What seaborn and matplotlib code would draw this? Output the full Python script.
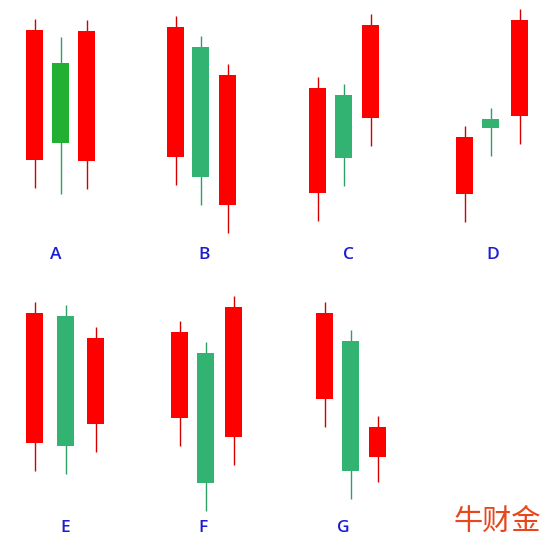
import numpy as np
import pandas as pd
import matplotlib
matplotlib.use("Agg")
import matplotlib.pyplot as plt
import seaborn as sns

# ---- data (unitless price scale) ----
groups = ["A", "B", "C", "D", "E", "F", "G"]
rows = [0, 0, 0, 0, 1, 1, 1]
# each group has three candles; direction: 1 = up (red), -1 = down (green)
direction = [
    [1, -1, 1], [1, -1, 1], [1, -1, 1], [1, -1, 1],
    [1, -1, 1], [1, -1, 1], [1, -1, 1],
]
body_top = [
    [210, 177, 209], [213, 193, 165], [152, 145, 215], [103, 121, 220],
    [207, 204, 182], [188, 167, 213], [207, 179, 93],
]
body_bottom = [
    [80, 97, 79], [83, 63, 35], [47, 82, 122], [46, 112, 124],
    [77, 74, 96], [102, 37, 83], [121, 49, 63],
]
high = [
    [221, 203, 220], [224, 204, 176], [163, 156, 226], [114, 132, 231],
    [218, 215, 193], [199, 178, 224], [218, 190, 104],
]
low = [
    [52, 46, 51], [55, 35, 7], [19, 54, 94], [18, 84, 96],
    [49, 46, 68], [74, 9, 55], [93, 21, 38],
]
watermark = "牛财金"

# ---- layout / style ----
W, H, DPI = 558, 560, 100
group_x = {  # candle centre positions in px (layout only)
    "A": [34.5, 60.5, 86.5], "B": [175.5, 200.5, 227.5],
    "C": [317.5, 343.5, 370.5], "D": [464.5, 490.5, 519.5],
    "E": [34.5, 65.5, 95.5], "F": [179.5, 205.5, 233.5],
    "G": [324.5, 350.5, 377.5],
}
label_x = {"A": 56, "B": 204, "C": 348, "D": 493, "E": 65, "F": 203, "G": 343}
label_y = {0: -15, 1: -8}
body_w = 17
red = "#ff0000"
red_wick = "#d40000"
green_body = {"A": "#22b033"}
green_default = "#33b371"
green_wick = "#2e9f64"

recs = []
for g, r, dirs, bt, bb, hi, lo in zip(groups, rows, direction, body_top, body_bottom, high, low):
    for i in range(3):
        recs.append(dict(group=g, row=r, x=group_x[g][i], dir=dirs[i],
                         top=bt[i], bottom=bb[i], high=hi[i], low=lo[i]))
df = pd.DataFrame(recs)

sns.set_theme(style="white")
plt.rcParams["font.family"] = ["Open Sans", "Noto Sans CJK SC", "DejaVu Sans"]

fig = plt.figure(figsize=(W / DPI, H / DPI), dpi=DPI)
fig.patch.set_facecolor("white")
axes = [fig.add_axes([0, 0.5, 1, 0.5]), fig.add_axes([0, 0, 1, 0.5])]
for ax in axes:
    ax.set_xlim(0, W)
    ax.set_ylim(-40, 240)
    ax.axis("off")

for _, c in df.iterrows():
    ax = axes[c["row"]]
    if c["dir"] > 0:
        fc, wc = red, red_wick
    else:
        fc, wc = green_body.get(c["group"], green_default), green_wick
    ax.vlines(c["x"], c["low"], c["high"], color=wc, linewidth=1.0, zorder=1)
    ax.bar(c["x"], c["top"] - c["bottom"], bottom=c["bottom"], width=body_w,
           color=fc, edgecolor="none", zorder=2)

for g, r in zip(groups, rows):
    axes[r].text(label_x[g], label_y[r], g, ha="center", va="center",
                 fontsize=12.5, fontweight="semibold", color="#1c1cd4")

axes[1].text(497, -2, watermark, ha="center", va="center", fontsize=21,
             color="#e8461c", family=["Noto Sans CJK SC", "DejaVu Sans"])

fig.savefig("out.png", dpi=DPI, facecolor="white")
